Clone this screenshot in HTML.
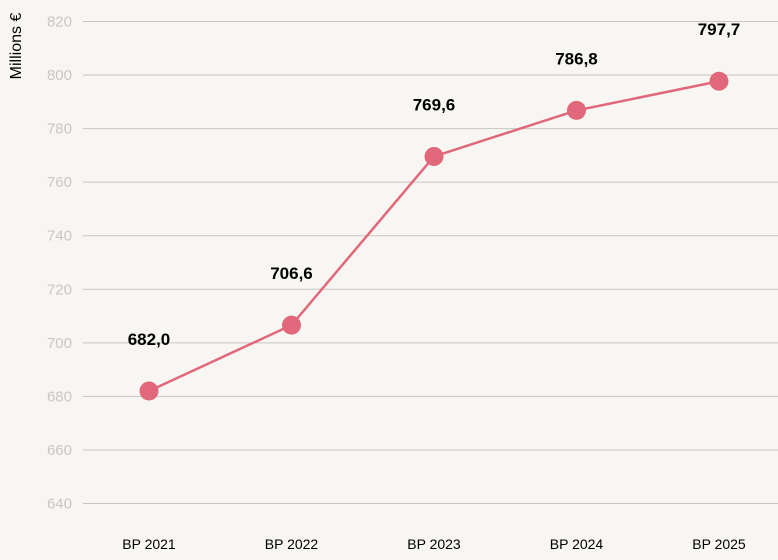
<!DOCTYPE html>
<html><head><meta charset="utf-8">
<style>
html,body{margin:0;padding:0;background:#f8f6f2;}
svg{display:block;font-family:"Liberation Sans",sans-serif;}
</style></head>
<body>
<svg id="chart" width="778" height="560" viewBox="0 0 778 560">
<rect x="0" y="0" width="778" height="560" fill="#f8f6f2"/>
<text transform="translate(21,46) rotate(-90)" text-anchor="middle" font-size="16" fill="#000">Millions €</text>
<g id="grid"></g><g id="yticks"></g><g id="xticks"></g><g id="series"></g><g id="labels"></g>
</svg>
<script>
const categories = ["BP 2021","BP 2022","BP 2023","BP 2024","BP 2025"];
const values = [682.0, 706.6, 769.6, 786.8, 797.7];
const valueLabels = ["682,0","706,6","769,6","786,8","797,7"];
const yTicks = [640,660,680,700,720,740,760,780,800,820];

const ns="http://www.w3.org/2000/svg";
function y(v){return 503.5-(v-640)*(482/180);}
function x(i){return 149+i*142.5;}
function mk(tag,attrs,parent){const e=document.createElementNS(ns,tag);for(const k in attrs)e.setAttribute(k,attrs[k]);document.getElementById(parent).appendChild(e);return e;}

yTicks.forEach(t=>{
  const l=mk("line",{x1:83,x2:778,y1:y(t),y2:y(t),stroke:"#c8c6c2","stroke-width":1},"grid");
  
  
  const tx=mk("text",{x:72,y:y(t)+5,"text-anchor":"end","font-size":15,fill:"#c9c7c4"},"yticks");
  tx.textContent=t;
  
  
});
categories.forEach((c,i)=>{
  const tx=mk("text",{x:x(i),y:549,"text-anchor":"middle","font-size":14,fill:"#000"},"xticks");
  tx.textContent=c;
  
  
});
const pl=mk("polyline",{points:values.map((v,i)=>x(i)+","+y(v)).join(" "),fill:"none",stroke:"#e0687a","stroke-width":2.5},"series");


values.forEach((v,i)=>{
  const c=mk("circle",{cx:x(i),cy:y(v),r:9.5,fill:"#e0687a"},"series");
  
  
  const t=mk("text",{x:x(i),y:y(v)-46,"text-anchor":"middle","font-size":17,"font-weight":"bold",fill:"#000"},"labels");
  t.textContent=valueLabels[i];
  
  
});
</script>
</body></html>
